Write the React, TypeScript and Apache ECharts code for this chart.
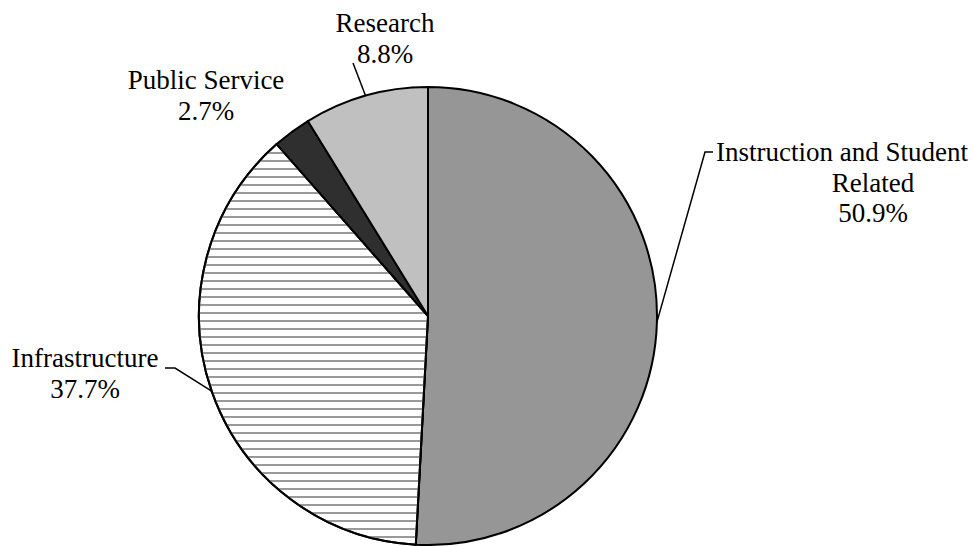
import React, { useEffect, useRef } from "react";
import * as echarts from "echarts";

// ---- data ----
const categories = ["Instruction and Student Related", "Infrastructure", "Public Service", "Research"];
const values = [50.9, 37.7, 2.7, 8.8];
const labelLines = [["Instruction and Student", "Related"], ["Infrastructure"], ["Public Service"], ["Research"]];

// ---- styling / layout ----
const colors = ["#969696", "#ffffff", "#2f2f2f", "#c0c0c0"];
const FONT = "'Liberation Serif', 'Times New Roman', serif";
const anchors: { x: number; y: number; elbow: number[][] | null }[] = [
  { x: 873, y: 182.5, elbow: [[705, 152], [713, 152]] },
  { x: 85, y: 373.5, elbow: [[175, 368], [165, 368]] },
  { x: 206, y: 95.5, elbow: null },
  { x: 385, y: 38.5, elbow: [[353, 63], [353, 63]] },
];

export default function App() {
  const ref = useRef<HTMLDivElement>(null);
  useEffect(() => {
    if (!ref.current) return;
    const chart = echarts.init(ref.current, undefined, { renderer: "svg" });
    const data = categories.map((name, i) => {
      const item: any = {
        name,
        value: values[i],
        itemStyle: { color: colors[i] },
      };
      if (i === 1) {
        item.itemStyle.decal = {
          symbol: "rect",
          symbolSize: 1,
          color: "#999999",
          dashArrayX: [1, 0],
          dashArrayY: [2, 5.5],
          rotation: 0,
        };
      }
      if (!anchors[i].elbow) item.labelLine = { show: false };
      return item;
    });
    chart.setOption({
      animation: false,
      backgroundColor: "#ffffff",
      series: [
        {
          type: "pie",
          center: [428, 316],
          radius: 229,
          startAngle: 90,
          clockwise: true,
          avoidLabelOverlap: false,
          silent: true,
          data,
          itemStyle: { borderColor: "#000000", borderWidth: 2 },
          emphasis: { disabled: true },
          label: {
            show: true,
            position: "outside",
            color: "#000",
            fontFamily: FONT,
            fontSize: 27,
            lineHeight: 31,
            formatter: (p: any) => {
              const lines = labelLines[p.dataIndex];
              const pct = `${values[p.dataIndex].toFixed(1)}%`;
              if (lines.length > 1) {
                return `{a|${lines[0]}}\n{b|${lines[1]}}\n{b|${pct}}`;
              }
              return `{b|${lines[0]}}\n{b|${pct}}`;
            },
            rich: {
              a: { fontFamily: FONT, fontSize: 27, lineHeight: 30.5, color: "#000", padding: [0, 62, 0, 0] },
              b: { fontFamily: FONT, fontSize: 27, lineHeight: 30.5, color: "#000" },
            },
          },
          labelLine: {
            show: true,
            length: 10,
            length2: 10,
            lineStyle: { color: "#000", width: 1.5 },
          },
          labelLayout: (params: any) => {
            const a = anchors[params.dataIndex];
            const res: any = { x: a.x, y: a.y, align: "center", verticalAlign: "middle" };
            if (a.elbow && params.labelLinePoints) {
              res.labelLinePoints = [params.labelLinePoints[0], a.elbow[0], a.elbow[1]];
            }
            return res;
          },
        },
      ],
    });
    return () => chart.dispose();
  }, []);
  return (
    <div
      ref={ref}
      style={{ position: "absolute", left: 0, top: 0, width: 975, height: 546, background: "#fff" }}
    />
  );
}
